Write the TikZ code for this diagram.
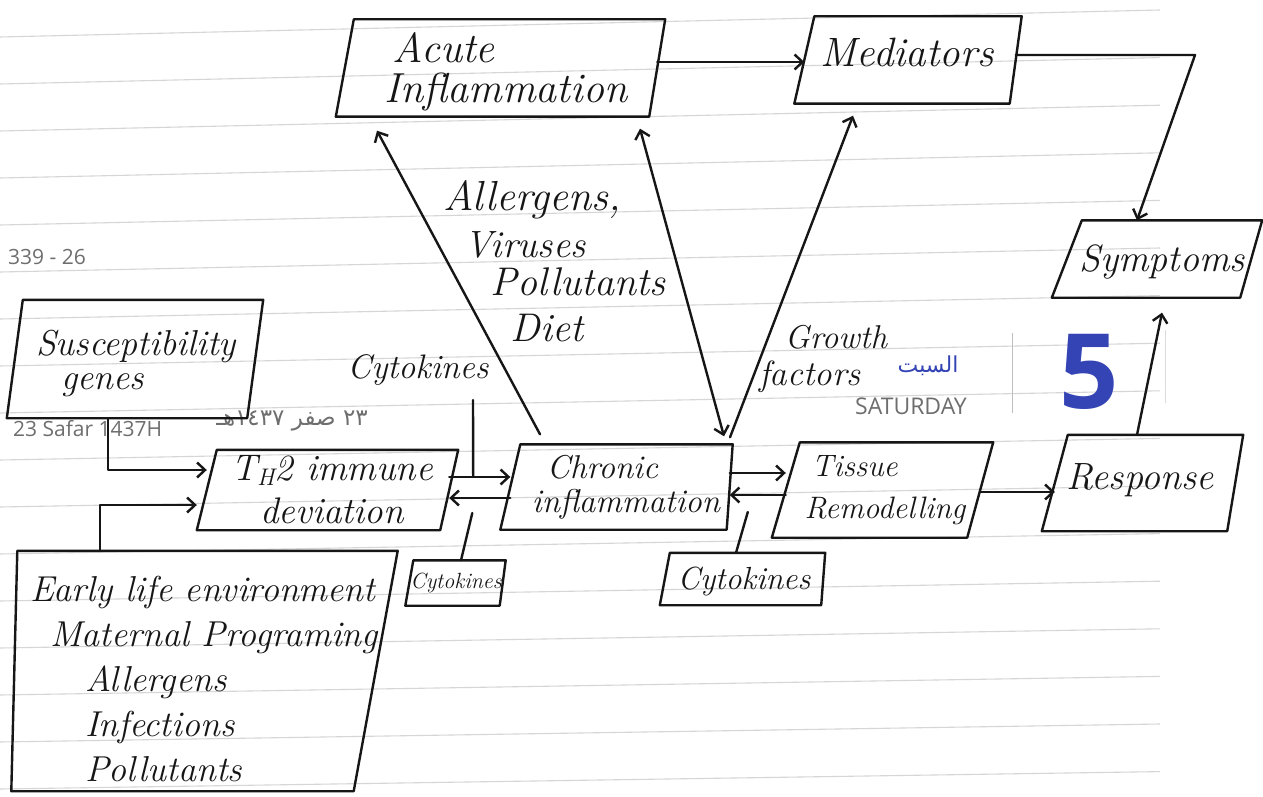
\documentclass[tikz,border=0pt]{standalone}
\usepackage{fontspec}
\usetikzlibrary{arrows.meta}
\newfontfamily\printfont{Open Sans}
\newfontfamily\arabicfont[Script=Arabic]{DejaVu Sans}
\TeXXeTstate=1

\definecolor{inkc}{HTML}{161616}
\definecolor{rulec}{HTML}{D6D6D6}
\definecolor{printgray}{HTML}{6E6E6E}
\definecolor{printblue}{HTML}{3444B4}

% handwriting-like font at a given size / baseline skip
\newcommand{\hf}[2]{\itshape\fontsize{#1}{#2}\selectfont}
\newcommand{\pf}[2]{\fontsize{#1}{#2}\selectfont}

\tikzset{
  ink/.style={draw=inkc, line width=2.4pt, line cap=round, line join=round},
  arr/.style={ink, -{Straight Barb[length=8pt,width=15pt]}},
  darr/.style={ink, {Straight Barb[length=8pt,width=15pt]}-{Straight Barb[length=8pt,width=15pt]}},
  frame/.style={draw=none, inner sep=0pt},
  hw/.style={text=inkc, inner sep=0pt},
  boxtext/.style={hw, align=left},
  printtxt/.style={text=printgray, inner sep=0pt},
}

% slanted box: [text options]{name}{x,y}{width}{height}{left slant}{right slant}{text}
\newcommand{\slantbox}[8][]{%
  \node[frame, minimum width=#4pt, minimum height=#5pt] (#2) at (#3) {};
  \draw[ink] ([xshift=#6pt]#2.north west) -- ([xshift=#7pt]#2.north east)
    -- ([xshift=-#7pt]#2.south east) -- ([xshift=-#6pt]#2.south west) -- cycle;
  \node[boxtext, #1] (#2-txt) at (#2.center) {#8};
}

\begin{document}
\begin{tikzpicture}[x=1pt, y=-1pt]
\useasboundingbox (0,0) rectangle (1263,797);
\fill[white] (0,0) rectangle (1263,797);

% ruled notebook lines
\foreach \k in {0,...,16}
  \draw[rulec, line width=1.1pt] (0,{37+47*\k}) -- (1160,{37+47*\k-27+0.6*\k});

% printed page furniture
\node[printtxt, font=\printfont\pf{21}{21}, anchor=west] (pagecode) at (8,257) {339 - 26};
\node[printtxt, font=\printfont\pf{21}{21}, anchor=west] (hijri) at (13,429) {23 Safar 1437H};
\node[printtxt, font=\arabicfont\pf{23}{23}] (hijriar) at (292,421)
  {\beginR\beginL ٢٣\endL{} صفر \beginL ١٤٣٧\endL{}هـ\endR};
\node[text=printblue, inner sep=0pt, font=\arabicfont\pf{22}{22}] (dayar) at (928,366) {\beginR السبت\endR};
\node[printtxt, font=\printfont\pf{23}{23}] (dayen) at (911,406) {SATURDAY};
\node[text=printblue, inner sep=0pt, font=\printfont\bfseries\pf{104}{104}] (daynum) at (1089,372) {5};
\draw[printgray!45, line width=1pt] (1012,333) -- (1012,413);
\draw[printgray!25, line width=0.8pt] (1165,330) -- (1165,403);

% boxes
\slantbox[font=\hf{42}{40}, shift={(5,4)}]{acute}{501,68}{312}{97}{9}{8}{\hspace*{8pt}Acute\\Inflammation}
\slantbox[font=\hf{41}{41}, shift={(-3,-8)}]{med}{910,60}{211}{87}{10}{6}{Mediators}
\slantbox[font=\hf{38}{38}, shift={(3,3)}]{sym}{1159,259}{184}{77}{15}{11}{Symptoms}
\slantbox[font=\hf{36}{34}, shift={(1,4)}]{sus}{135,359}{240}{118}{8}{8}{Susceptibility\\\hspace*{25pt}genes}
\slantbox[font=\hf{37}{43}, shift={(4,0)}, align=center]{th2}{328,490}{242}{80}{10}{9}{T\raisebox{-0.12em}{\fontsize{24}{24}\selectfont H}2 immune\\deviation}
\slantbox[font=\hf{33}{34}, shift={(6,0)}]{chronic}{620,487}{219}{85}{10}{3}{\hspace*{15pt}Chronic\\inflammation}
\slantbox[font=\hf{31}{42}, shift={(2,0)}]{tissue}{883,490}{194}{95}{14}{13}{\hspace*{7pt}Tissue\\Remodelling}
\slantbox[font=\hf{38}{38}, shift={(-5,-3)}]{resp}{1145,483}{180}{96}{13}{8}{Response}
\slantbox[font=\hf{22}{22}]{cytoB}{456,583}{93}{45}{4}{3}{Cytokines}
\slantbox[font=\hf{32}{32}, shift={(0,2)}]{cytoC}{744,579}{158}{52}{5}{2}{Cytokines}
\slantbox[font=\hf{36}{45}, shift={(9,8)}]{early}{195,671}{361}{240}{3}{22}%
  {Early life environment\\\hspace*{20pt}Maternal Programing\\\hspace*{55pt}Allergens\\\hspace*{55pt}Infections\\\hspace*{55pt}Pollutants}

% free labels
\node[hw, font=\hf{34}{34}] (cytoA) at (418,370) {Cytokines};
\node[hw, font=\hf{42}{42}] (trig1) at (532,200) {Allergens,};
\node[hw, font=\hf{38}{38}] (trig2) at (525,245) {Viruses};
\node[hw, font=\hf{40}{40}] (trig3) at (578,282) {Pollutants};
\node[hw, font=\hf{40}{40}] (trig4) at (547,328) {Diet};
\node[hw, font=\hf{33}{33}] (gf1) at (836,337) {Growth};
\node[hw, font=\hf{35}{35}] (gf2) at (810,377) {factors};

% connection points
\coordinate (a2m) at ([yshift=6pt]acute.east);
\coordinate (msbend) at (1195,55);
\coordinate (h2c) at ([yshift=13pt]th2.east);
\coordinate (c2h) at ([yshift=-11pt]chronic.west);
\coordinate (c2t) at ([yshift=14pt]chronic.east);
\coordinate (t2c) at ([yshift=-5pt]tissue.west);
\coordinate (t2r) at ([yshift=-2pt]tissue.east);

% connectors
\draw[arr] (a2m) -- (a2m -| med.west);
\draw[arr] (med.east |- msbend) -- (msbend) -- ([xshift=-22pt]sym.north);
\draw[arr] ([xshift=-8pt]resp.north) -- ([xshift=3pt,yshift=-15pt]sym.south);
\draw[arr] (t2r) -- (t2r -| resp.west);
\draw[arr] (c2t) -- (c2t -| tissue.west);
\draw[arr] (t2c) -- (t2c -| chronic.east);
\draw[arr] (h2c) -- (h2c -| chronic.west);
\draw[arr] (c2h) -- (c2h -| th2.east);
\draw[arr] ([xshift=-27pt]sus.south) |- ([yshift=20pt]th2.west);
\draw[arr] ([xshift=-95pt]early.north) |- ([xshift=-10pt,yshift=-15pt]th2.west);
\draw[arr] ([xshift=-80pt,yshift=10pt]chronic.north) -- ([xshift=-124pt,yshift=-14pt]acute.south);
\draw[darr] ([xshift=139pt,yshift=-12pt]acute.south) -- ([xshift=104pt,yshift=8pt]chronic.north);
\draw[arr] ([xshift=110pt,yshift=7pt]chronic.north) -- ([xshift=-57pt,yshift=-12pt]med.south);

% cytokine ticks
\draw[ink] ([xshift=55pt,yshift=-30pt]cytoA.center) -- ([xshift=24pt]h2c);
\draw[ink] ([xshift=5pt]cytoB.north) -- ([xshift=-38pt,yshift=-15pt]c2h);
\draw[ink] ([xshift=-8pt]cytoC.north) -- ([xshift=-38pt,yshift=-17pt]t2c);
\end{tikzpicture}
\end{document}
